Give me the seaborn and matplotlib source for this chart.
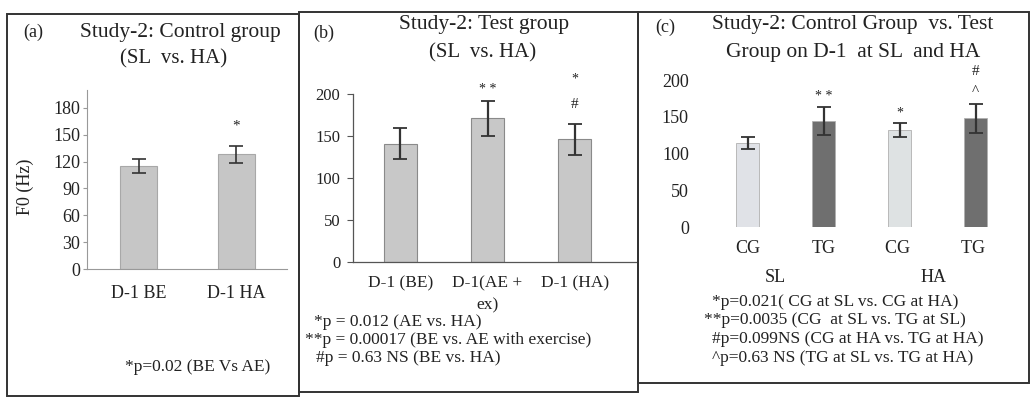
import numpy as np
import pandas as pd
import seaborn as sns
import matplotlib.pyplot as plt
from matplotlib.patches import Rectangle

# panel (a): control group
a_labels = ["D-1 BE", "D-1 HA"]
a_means = [115, 128]
a_err = [8, 9.5]
a_ticks = [0, 30, 60, 90, 120, 150, 180]

# panel (b): test group
b_labels = ["D-1 (BE)", "D-1(AE +\nex)", "D-1 (HA)"]
b_means = [141, 171, 146]
b_err = [18, 21, 18.5]
b_ticks = [0, 50, 100, 150, 200]

# panel (c): CG vs TG at SL and HA
c_labels = ["CG", "TG", "CG ", "TG "]
c_means = [114, 144, 132, 148]
c_err = [8, 19, 9.5, 20]
c_ticks = [0, 50, 100, 150, 200]

sns.set_style("white")
plt.rcParams["font.family"] = ["Liberation Serif", "DejaVu Serif"]
ink = "#222222"

W, H = 1031, 397
fig = plt.figure(figsize=(W / 100, H / 100), dpi=100)


def px_axes(left, right, y0, ytop):
    return fig.add_axes([left / W, 1 - y0 / H, (right - left) / W, (y0 - ytop) / H])


def ftext(x, y, s, **kw):
    kw.setdefault("color", ink)
    kw.setdefault("ha", "center")
    kw.setdefault("va", "center")
    fig.text(x / W, 1 - y / H, s, **kw)


# panel frames (pixel boxes: x0, x1, ytop, ybottom)
for x0, x1, yt, yb in [(7, 299, 14, 396), (299, 638, 12, 392), (638, 1029, 12, 383)]:
    fig.add_artist(Rectangle((x0 / W, 1 - yb / H), (x1 - x0) / W, (yb - yt) / H,
                             transform=fig.transFigure, fill=False,
                             edgecolor="#333333", lw=1.4))

# ---- (a)
ax = px_axes(87, 287, 269, 90)
dfa = pd.DataFrame({"cond": a_labels, "f0": a_means})
sns.barplot(data=dfa, x="cond", y="f0", ax=ax, color="#c6c6c6", width=0.38,
            edgecolor="#a8a8a8", linewidth=0.8, errorbar=None)
ax.errorbar(range(len(a_means)), a_means, yerr=a_err, fmt="none", ecolor="#333333",
            elinewidth=1.2, capsize=5, capthick=1.2)
ax.set_ylim(0, 200)
ax.set_xlim(-0.53, 1.52)
ax.set_yticks(a_ticks)
ax.set_xlabel("")
ax.set_ylabel("")
for s in ["top", "right"]:
    ax.spines[s].set_visible(False)
for s in ["left", "bottom"]:
    ax.spines[s].set_color("#999999")
    ax.spines[s].set_linewidth(0.8)
ax.tick_params(axis="y", left=True, length=3, color="#999999", labelsize=13, labelcolor=ink, pad=2)
ax.tick_params(axis="x", bottom=False, labelsize=13, labelcolor=ink, pad=8)
ax.text(1, 160, "*", ha="center", va="center", fontsize=11, color=ink)
ftext(25, 187, "F0 (Hz)", rotation=90, fontsize=13)
ftext(33, 32, "(a)", fontsize=13)
ftext(180, 32, "Study-2: Control group", fontsize=15.5)
ftext(174, 59, "(SL  vs. HA)", fontsize=15)
ftext(198, 367, "*p=0.02 (BE Vs AE)", fontsize=12.5)

# ---- (b)
ax = px_axes(353, 636, 262, 94)
dfb = pd.DataFrame({"cond": b_labels, "f0": b_means})
sns.barplot(data=dfb, x="cond", y="f0", ax=ax, color="#c8c8c8", width=0.38,
            edgecolor="#8a8a8a", linewidth=0.8, errorbar=None)
ax.errorbar(range(len(b_means)), b_means, yerr=b_err, fmt="none", ecolor="#333333",
            elinewidth=1.6, capsize=5, capthick=1.3)
ax.set_ylim(0, 200)
ax.set_xlim(-0.54, 2.7)
ax.set_yticks(b_ticks)
ax.set_xlabel("")
ax.set_ylabel("")
for s in ["top", "right"]:
    ax.spines[s].set_visible(False)
for s in ["left", "bottom"]:
    ax.spines[s].set_color("#555555")
    ax.spines[s].set_linewidth(0.9)
ax.tick_params(axis="y", left=True, length=4, color="#555555", labelsize=12, labelcolor=ink, pad=5)
ax.tick_params(axis="x", bottom=False, labelsize=12.5, labelcolor=ink, pad=6)
for t in ax.get_xticklabels():
    t.set_linespacing(1.5)
ax.text(1, 205, "* *", ha="center", va="center", fontsize=10, color=ink, clip_on=False)
ax.text(2, 218, "*", ha="center", va="center", fontsize=10, color=ink, clip_on=False)
ax.text(2, 188, "#", ha="center", va="center", fontsize=11, color=ink, clip_on=False)
ftext(324, 33, "(b)", fontsize=13)
ftext(484, 25, "Study-2: Test group", fontsize=15.5)
ftext(483, 53, "(SL  vs. HA)", fontsize=15)
ftext(314, 322, "*p = 0.012 (AE vs. HA)", fontsize=12.5, ha="left")
ftext(305, 340, "**p = 0.00017 (BE vs. AE with exercise)", fontsize=12.5, ha="left")
ftext(316, 358, "#p = 0.63 NS (BE vs. HA)", fontsize=12.5, ha="left")

# ---- (c)
ax = px_axes(702, 1012, 227, 80)
dfc = pd.DataFrame({"grp": c_labels, "f0": c_means})
sns.barplot(data=dfc, x="grp", y="f0", hue="grp", ax=ax, width=0.31,
            palette=["#dfe2e8", "#6f6f6f", "#dde3e4", "#6f6f6f"],
            edgecolor="#b0b0b0", linewidth=0.6, errorbar=None, legend=False)
ax.errorbar(range(len(c_means)), c_means, yerr=c_err, fmt="none", ecolor="#333333",
            elinewidth=1.6, capsize=5, capthick=1.3)
ax.set_ylim(0, 200)
ax.set_xlim(-0.6, 3.48)
ax.set_yticks(c_ticks)
ax.set_xlabel("")
ax.set_ylabel("")
sns.despine(ax=ax, left=True, bottom=True)
ax.tick_params(axis="y", left=False, labelsize=13, labelcolor=ink, pad=6)
ax.tick_params(axis="x", bottom=False, labelsize=13, labelcolor=ink, pad=6)
ax.text(1, 178, "* *", ha="center", va="center", fontsize=10, color=ink, clip_on=False)
ax.text(2, 155, "*", ha="center", va="center", fontsize=10, color=ink, clip_on=False)
ax.text(3, 184, "^", ha="center", va="center", fontsize=11, color=ink, clip_on=False)
ax.text(3, 211, "#", ha="center", va="center", fontsize=11, color=ink, clip_on=False)
ftext(665, 27, "(c)", fontsize=13)
ftext(853, 25, "Study-2: Control Group  vs. Test", fontsize=15.5)
ftext(853, 52, "Group on D-1  at SL  and HA", fontsize=15.5)
ftext(775, 277, "SL", fontsize=13)
ftext(934, 277, "HA", fontsize=13)
ftext(712, 302, "*p=0.021( CG at SL vs. CG at HA)", fontsize=12.5, ha="left")
ftext(704, 320, "**p=0.0035 (CG  at SL vs. TG at SL)", fontsize=12.5, ha="left")
ftext(712, 339, "#p=0.099NS (CG at HA vs. TG at HA)", fontsize=12.5, ha="left")
ftext(712, 358, "^p=0.63 NS (TG at SL vs. TG at HA)", fontsize=12.5, ha="left")

fig.savefig("out.png", dpi=100)
